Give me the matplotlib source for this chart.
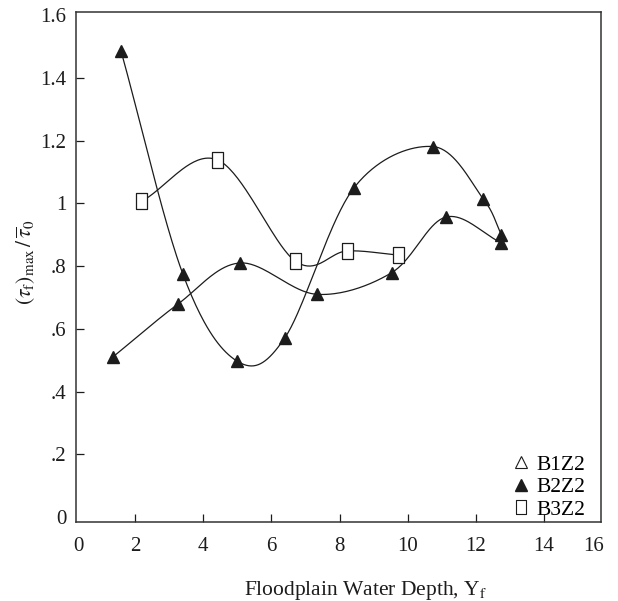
import numpy as np
import matplotlib
matplotlib.use('Agg')
import matplotlib.pyplot as plt
from matplotlib.lines import Line2D

plt.rcParams['font.family'] = ['Liberation Serif', 'DejaVu Serif']
plt.rcParams['mathtext.fontset'] = 'stix'

# data (x in floodplain depth, y in (tau_f)max / tau0)
b1_x = [1.36, 3.25, 5.08, 7.33, 9.53, 11.11, 12.75]
b1_y = [0.511, 0.678, 0.810, 0.710, 0.779, 0.956, 0.874]

b2_x = [1.59, 3.40, 4.98, 6.40, 8.42, 10.75, 12.21, 12.75]
b2_y = [1.486, 0.776, 0.498, 0.572, 1.049, 1.181, 1.015, 0.900]

b3_x = [2.19, 4.41, 6.70, 8.21, 9.72]
b3_y = [1.006, 1.139, 0.816, 0.848, 0.835]

xtick_pos = [0.33, 2, 4, 6, 8, 10, 12, 14, 15.45]
xtick_lab = ['0', '2', '4', '6', '8', '10', '12', '14', '16']
ytick_pos = [0, 0.2, 0.4, 0.6, 0.8, 1.0, 1.2, 1.4, 1.6]
ytick_lab = ['0', '.2', '.4', '.6', '.8', '1', '1.2', '1.4', '1.6']

YS = 9.2  # y stretch so the spline is built in roughly screen proportions


def smooth(xs, ys, n=40):
    P = np.column_stack([np.asarray(xs, float), np.asarray(ys, float) * YS])
    P = np.vstack([2 * P[0] - P[1], P, 2 * P[-1] - P[-2]])
    t = np.linspace(0, 1, n)[:, None]
    segs = []
    for i in range(1, len(P) - 2):
        p0, p1, p2, p3 = P[i - 1], P[i], P[i + 1], P[i + 2]
        seg = 0.5 * (2 * p1 + (-p0 + p2) * t
                     + (2 * p0 - 5 * p1 + 4 * p2 - p3) * t ** 2
                     + (-p0 + 3 * p1 - 3 * p2 + p3) * t ** 3)
        segs.append(seg)
    S = np.vstack(segs)
    return S[:, 0], S[:, 1] / YS


rect = [(-0.36, -0.5), (0.36, -0.5), (0.36, 0.5), (-0.36, 0.5), (-0.36, -0.5)]
ink = '#1c1c1c'

fig = plt.figure(figsize=(6.18, 6.01), dpi=100)
ax = fig.add_axes([0.123, 0.1314, 0.8495, 0.8486])

for xs, ys in [(b1_x, b1_y), (b2_x, b2_y), (b3_x, b3_y)]:
    sx, sy = smooth(xs, ys)
    ax.plot(sx, sy, color=ink, lw=0.9, zorder=2)

ax.plot(b1_x, b1_y, ls='none', marker='^', ms=8.5, color=ink, zorder=3)
ax.plot(b2_x, b2_y, ls='none', marker='^', ms=8.5, color=ink, zorder=3)
ax.plot(b3_x, b3_y, ls='none', marker=rect, ms=11, mfc='white', mec=ink, mew=0.9, zorder=3)

ax.set_xlim(0.27, 15.67)
ax.set_ylim(-0.016, 1.61)
ax.set_xticks(xtick_pos, xtick_lab)
ax.set_yticks(ytick_pos, ytick_lab)
ax.tick_params(direction='in', length=6, width=0.9, labelsize=15, colors=ink)
ax.tick_params(axis='x', pad=11)
ax.tick_params(axis='y', pad=7)
for tk in [ax.xaxis.get_major_ticks()[0], ax.xaxis.get_major_ticks()[-1],
           ax.yaxis.get_major_ticks()[0], ax.yaxis.get_major_ticks()[-1]]:
    tk.tick1line.set_visible(False)
for sp in ax.spines.values():
    sp.set_color('#333333')
    sp.set_linewidth(1.1)

ax.set_xlabel(r'Floodplain Water Depth, Y$_\mathrm{f}$', fontsize=15.5, color=ink)
ax.xaxis.set_label_coords(0.552, -0.112)
ax.set_ylabel(r'$(\tau_\mathrm{f})_\mathrm{max}\,/\,\overline{\tau}_0$', fontsize=15.5, color=ink)
ax.yaxis.set_label_coords(-0.072, 0.51)

handles = [
    Line2D([], [], ls='none', marker='^', ms=8, mfc='white', mec=ink, mew=0.8),
    Line2D([], [], ls='none', marker='^', ms=8, color=ink),
    Line2D([], [], ls='none', marker=rect, ms=10, mfc='white', mec=ink, mew=0.8),
]
ax.legend(handles, ['B1Z2', 'B2Z2', 'B3Z2'], loc='lower right', frameon=False,
          fontsize=15.5, handlelength=0.7, handletextpad=0.35, labelspacing=0.12,
          borderaxespad=0, borderpad=0, bbox_to_anchor=(0.97, 0.004))

fig.savefig('out.png', dpi=100)
